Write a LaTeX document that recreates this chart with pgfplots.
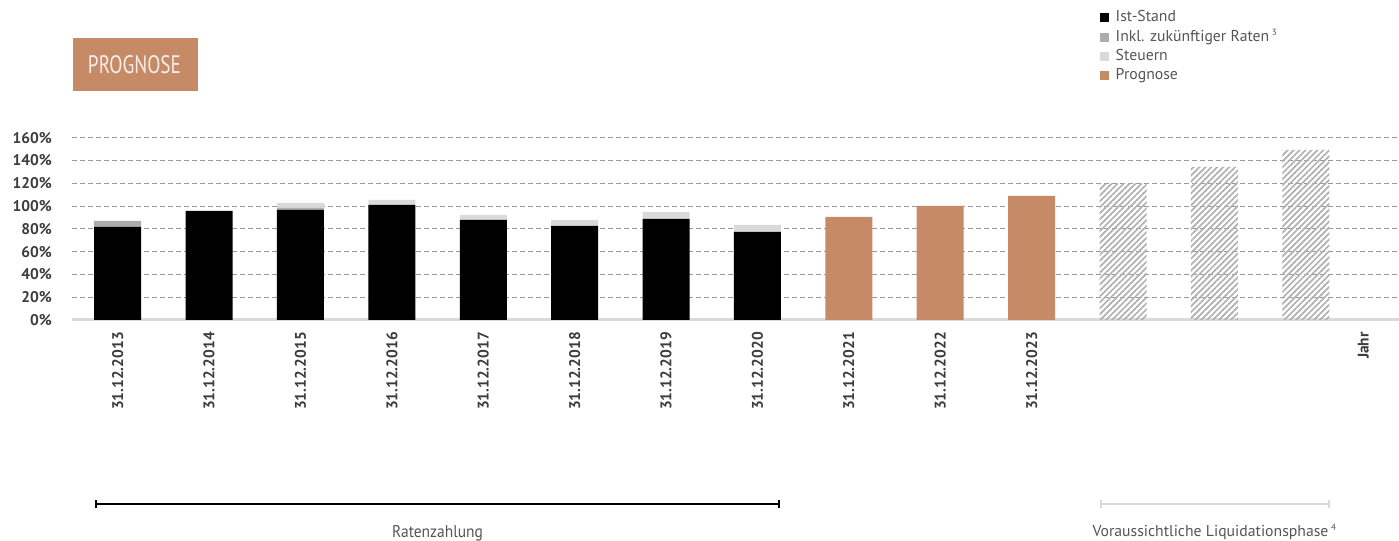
\documentclass[border=0pt]{standalone}
\usepackage{pgfplots}
\pgfplotsset{compat=1.18}
\usepackage{pgfplotstable}
\usepackage{graphicx}
\usetikzlibrary{patterns.meta}
\usepackage{fontspec}
\setmainfont{PT Sans}
\definecolor{prog}{HTML}{C68A66}
\definecolor{raten}{HTML}{ABADAD}
\definecolor{steuer}{HTML}{D9DAD9}
\definecolor{hatchc}{HTML}{B0B0B0}
\definecolor{lbl}{HTML}{3C3C3C}
\definecolor{txt}{HTML}{555555}
\pgfplotstableread{
x ist raten steuern prog hatch
0 81.8 5.3 0 0 0
1 95.8 0 0 0 0
2 96.7 1.8 4.4 0 0
3 101.0 0 4.4 0 0
4 87.8 0 4.4 0 0
5 82.5 0 5.3 0 0
6 88.7 0 6.1 0 0
7 77.3 0 6.1 0 0
8 0 0 0 90.4 0
9 0 0 0 100.1 0
10 0 0 0 108.9 0
11 0 0 0 0 120.0
12 0 0 0 0 134.3
13 0 0 0 0 149.3
}\datatable
\begin{document}
\begin{tikzpicture}[x=1bp,y=1bp]
\begin{axis}[
  scale only axis, width=1327bp, height=182.3bp,
  xmin=-0.5, xmax=14.02, ymin=0, ymax=160,
  ybar stacked, bar width=0.514,
  axis y line*=left, y axis line style={draw=none},
  axis x line*=bottom,
  x axis line style={draw=steuer, line width=3bp, -},
  ytick={0,20,...,160},
  yticklabel={\pgfmathprintnumber{\tick}\%},
  /pgf/number format/assume math mode=true,
  yticklabel style={font=\fontsize{15.5}{16}\selectfont\bfseries, text=lbl, anchor=east, inner sep=0pt},
  yticklabel shift=20bp,
  ymajorgrids,
  major grid style={dash pattern=on 5bp off 3bp, draw=gray!80, line width=1bp},
  major tick length=0pt,
  xtick={0,...,10},
  xticklabels={31.12.2013,31.12.2014,31.12.2015,31.12.2016,31.12.2017,31.12.2018,31.12.2019,31.12.2020,31.12.2021,31.12.2022,31.12.2023},
  extra x ticks={13.63}, extra x tick labels={Jahr},
  xticklabel style={rotate=90, anchor=east, inner sep=0pt, font=\fontsize{15.5}{16}\selectfont\bfseries, text=lbl},
  xticklabel shift=12bp,
  legend image code/.code={\fill[#1] (0bp,-4.5bp) rectangle (9bp,4.5bp);},
  legend style={at={(0.7747,1.705)}, anchor=north west, draw=none, fill=none,
    font=\fontsize{15.8}{16}\selectfont, text=txt,
    inner sep=0pt, row sep=2.3bp,
    /tikz/every odd column/.style={column sep=5bp},
    nodes={inner sep=1.5bp, text height=11bp, text depth=3bp}},
  legend cell align=left,
]
\addplot[fill=black, draw=none] table[x=x,y=ist] {\datatable};
\addlegendentry{Ist-Stand}
\addplot[fill=raten, draw=none] table[x=x,y=raten] {\datatable};
\addlegendentry{Inkl. zukünftiger Raten\,\textsuperscript{\fontsize{9}{9}\selectfont 3}}
\addplot[fill=steuer, draw=none] table[x=x,y=steuern] {\datatable};
\addlegendentry{Steuern}
\addplot[fill=prog, draw=none] table[x=x,y=prog] {\datatable};
\addlegendentry{Prognose}
\addplot[draw=none, pattern={Lines[angle=45,distance=4.2bp,line width=1.7bp]}, pattern color=hatchc, forget plot] table[x=x,y=hatch] {\datatable};
\coordinate (O) at (rel axis cs:0,0);
\end{axis}
\pgfresetboundingbox
\begin{scope}[shift={(O)}, xshift=-72bp, yshift=-221bp]
\path[use as bounding box] (0,0) rectangle (1399,541);
% title box
\fill[prog] (73,450) rectangle (198,503);
\node[text=white!85!prog, inner sep=0pt] at (134.5,476) {\resizebox{93bp}{18bp}{PROGNOSE}};
% brackets
\draw[line width=2bp, black] (96,37) -- (779,37);
\draw[line width=1.5bp, black] (96,33) -- (96,41);
\draw[line width=1.5bp, black] (779,33) -- (779,41);
\node[text=txt, inner sep=0pt, anchor=base] at (437.5,4) {\resizebox{91bp}{12bp}{Ratenzahlung}};
\draw[line width=2bp, steuer] (1101,37) -- (1329,37);
\draw[line width=1.5bp, steuer] (1101,33) -- (1101,41);
\draw[line width=1.5bp, steuer] (1329,33) -- (1329,41);
\node[text=txt, inner sep=0pt, anchor=base, font=\fontsize{15.8}{16}\selectfont] at (1214.5,5) {Voraussichtliche Liquidationsphase\,\textsuperscript{\fontsize{9}{9}\selectfont 4}};
\end{scope}
\end{tikzpicture}
\end{document}
